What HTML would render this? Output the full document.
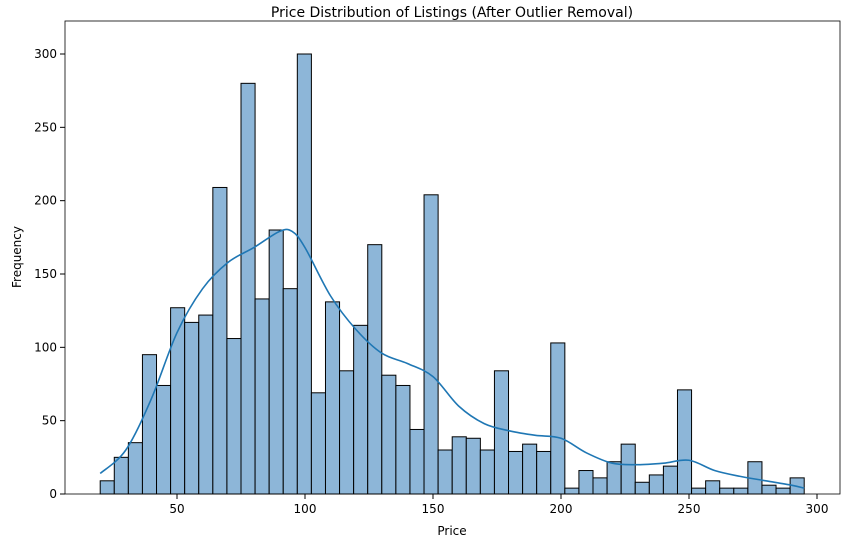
<!DOCTYPE html>
<html><head><meta charset="utf-8"><style>
body{margin:0;background:#fff;font-family:"Liberation Sans","DejaVu Sans",sans-serif}
svg text{font-family:"DejaVu Sans","Liberation Sans",sans-serif}
</style></head><body>
<svg id="chart" width="850" height="547" viewBox="0 0 850 547" xmlns="http://www.w3.org/2000/svg">
<rect width="850" height="547" fill="#fff"/>
<text x="452" y="17" font-size="14" text-anchor="middle" fill="#000">Price Distribution of Listings (After Outlier Removal)</text>
<g id="bars"></g><g id="ticks"></g>
<path id="kde" fill="none" stroke="#1f77b4" stroke-width="1.6"/>
<rect x="65" y="21" width="775" height="473" fill="none" stroke="#000" stroke-width="0.8"/>
<text x="452" y="535" font-size="12" text-anchor="middle">Price</text>
<text transform="translate(21,257) rotate(-90)" font-size="12" text-anchor="middle">Frequency</text>
</svg>
<script>
const binStart = 20, binWidth = 5.5;
const counts = [9,25,35,95,74,127,117,122,209,106,280,133,180,140,300,69,131,84,115,170,81,74,44,204,30,39,38,30,84,29,34,29,103,4,16,11,22,34,8,13,19,71,4,9,4,4,22,6,4,11];
const kdeX = [20,30,40,50,60,70,80,90,95,100,110,120,130,140,150,160,170,180,190,200,210,220,230,240,250,260,270,280,290,295];
const kdeY = [14,30,65,110,140,158,168,179,179,168,135,112,96,89,80,60,48,43,40,38,28,21,20,21,23,16,12,9,6,4];
const xTicks = [50,100,150,200,250,300];
const yTicks = [0,50,100,150,200,250,300];
const sx = v => 177 + (v - 50) * 2.56;
const sy = v => 494 - v * (440 / 300);
const NS = "http://www.w3.org/2000/svg";
const bars = document.getElementById('bars'), ticks = document.getElementById('ticks');
counts.forEach((c, i) => {
  const r = document.createElementNS(NS, 'rect');
  const x0 = sx(binStart + i * binWidth), x1 = sx(binStart + (i + 1) * binWidth);
  r.setAttribute('x', x0); r.setAttribute('width', x1 - x0);
  r.setAttribute('y', sy(c)); r.setAttribute('height', sy(0) - sy(c));
  r.setAttribute('fill', '#8db6d8'); r.setAttribute('stroke', '#000'); r.setAttribute('stroke-width', '1');
  
  
  bars.appendChild(r);
});
xTicks.forEach(t => {
  const l = document.createElementNS(NS, 'line');
  l.setAttribute('x1', sx(t)); l.setAttribute('x2', sx(t)); l.setAttribute('y1', 494); l.setAttribute('y2', 499); l.setAttribute('stroke', '#000');
  
  
  ticks.appendChild(l);
  const tx = document.createElementNS(NS, 'text');
  tx.setAttribute('x', sx(t)); tx.setAttribute('y', 513); tx.setAttribute('font-size', '12'); tx.setAttribute('text-anchor', 'middle');
  tx.textContent = t;
  
  
  ticks.appendChild(tx);
});
yTicks.forEach(t => {
  const l = document.createElementNS(NS, 'line');
  l.setAttribute('x1', 60); l.setAttribute('x2', 65); l.setAttribute('y1', sy(t)); l.setAttribute('y2', sy(t)); l.setAttribute('stroke', '#000');
  
  
  ticks.appendChild(l);
  const tx = document.createElementNS(NS, 'text');
  tx.setAttribute('x', 57); tx.setAttribute('y', sy(t) + 4); tx.setAttribute('font-size', '12'); tx.setAttribute('text-anchor', 'end');
  tx.textContent = t;
  
  
  ticks.appendChild(tx);
});
const pts = kdeX.map((x, i) => [sx(x), sy(kdeY[i])]);
let d = `M${pts[0][0]},${pts[0][1]}`;
for (let i = 0; i < pts.length - 1; i++) {
  const p0 = pts[Math.max(0, i - 1)], p1 = pts[i], p2 = pts[i + 1], p3 = pts[Math.min(pts.length - 1, i + 2)];
  const c1 = [p1[0] + (p2[0] - p0[0]) / 6, p1[1] + (p2[1] - p0[1]) / 6];
  const c2 = [p2[0] - (p3[0] - p1[0]) / 6, p2[1] - (p3[1] - p1[1]) / 6];
  d += ` C${c1[0]},${c1[1]} ${c2[0]},${c2[1]} ${p2[0]},${p2[1]}`;
}
document.getElementById('kde').setAttribute('d', d);
</script>
</body></html>
